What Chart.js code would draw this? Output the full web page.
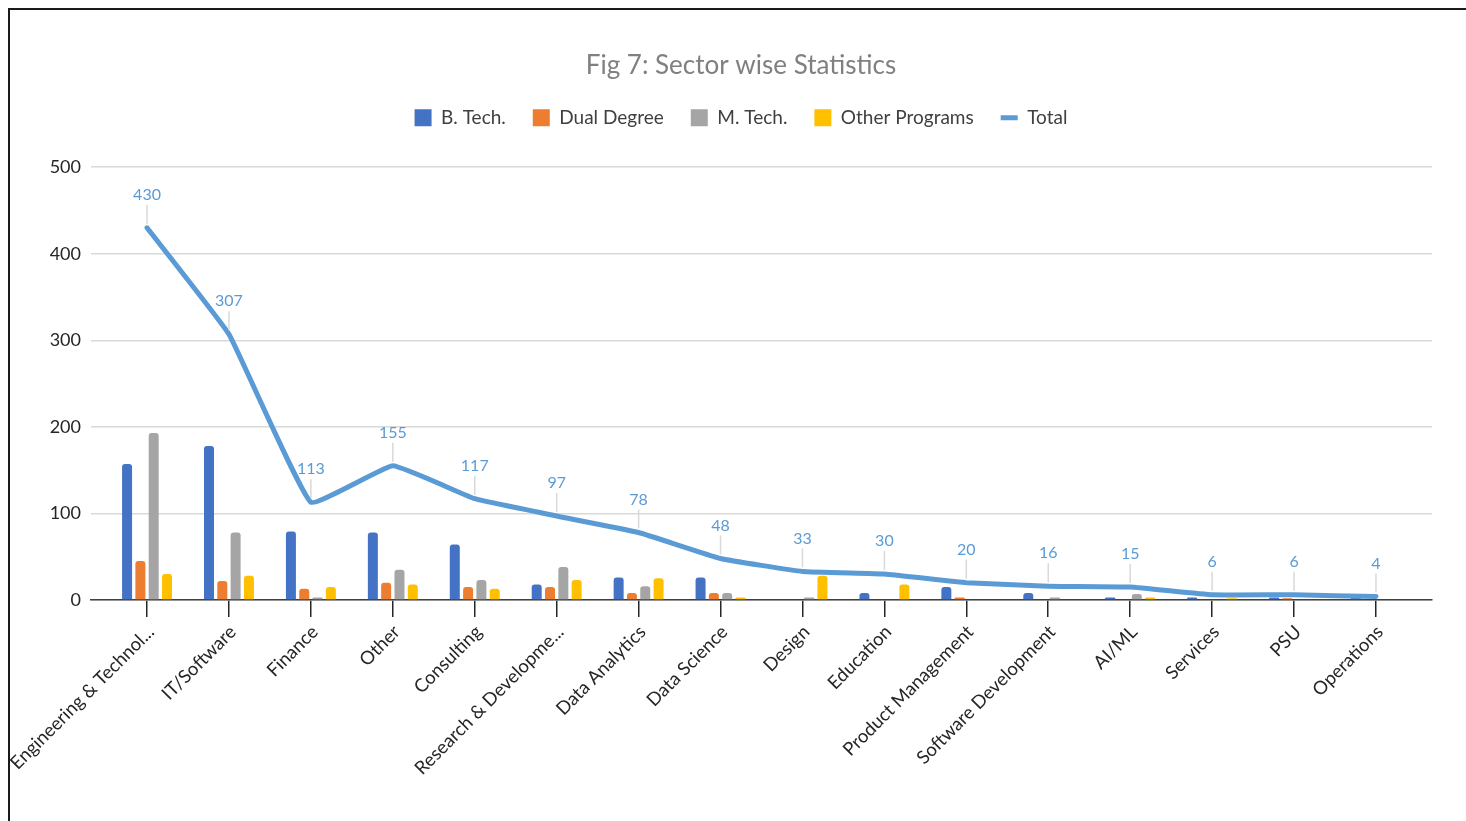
<!DOCTYPE html>
<html>
<head>
<meta charset="utf-8">
<script src="https://cdn.jsdelivr.net/npm/chart.js@4"></script>
<style>
  html, body { margin: 0; padding: 0; background: #fff; overflow: hidden; }
  #wrap { position: relative; width: 1466px; height: 821px; }
  #frame { position: absolute; left: 8px; top: 8px; width: 2000px; height: 2000px;
           border-top: 2px solid #1a1a1a; border-left: 2px solid #1a1a1a; pointer-events: none; }
</style>
</head>
<body>
<div id="wrap">
  <canvas id="chartSector" width="1466" height="821"></canvas>
  <div id="frame"></div>
</div>
<script>
const sectors = ["Engineering & Technol...", "IT/Software", "Finance", "Other", "Consulting",
  "Research & Developme...", "Data Analytics", "Data Science", "Design", "Education",
  "Product Management", "Software Development", "AI/ML", "Services", "PSU", "Operations"]
const btech = [157, 178, 79, 78, 64, 18, 26, 26, 0, 8, 15, 8, 3, 3, 3, 3]
const dual = [45, 22, 13, 20, 15, 15, 8, 8, 1, 0, 3, 1, 1, 0, 2, 0]
const mtech = [193, 78, 3, 35, 23, 38, 16, 8, 3, 1, 0, 3, 7, 1, 1, 1]
const otherProg = [30, 28, 15, 18, 13, 23, 25, 3, 28, 18, 1, 1, 3, 2, 0, 0]
const total = [430, 307, 113, 155, 117, 97, 78, 48, 33, 30, 20, 16, 15, 6, 6, 4]
const yTicks = [0, 100, 200, 300, 400, 500]

const FONT = "Lato, 'Open Sans', sans-serif"
const pts = arr => arr.map((v, i) => ({ x: i, y: v }))

function barSet(label, arr, color) {
  return {
    type: "bar", label: label, data: pts(arr),
    backgroundColor: color, borderWidth: 0, borderRadius: 3,
    categoryPercentage: 0.65, barPercentage: 0.75,
    pointStyle: "rect", order: 1
  }
}

// legend spacing below, so the plot starts where the reference does
const legendSpace = {
  id: "legendSpace",
  beforeInit(chart) {
    const fit = chart.legend.fit
    chart.legend.fit = function () {
      fit.bind(chart.legend)()
      this.height = 86
    }
  }
}

// value labels with leader lines above the Total line
const totalLabels = {
  id: "totalLabels",
  afterDatasetsDraw(chart) {
    const meta = chart.getDatasetMeta(4)
    const ctx = chart.ctx
    ctx.save()
    ctx.font = "16px " + FONT
    ctx.textAlign = "center"
    ctx.textBaseline = "middle"
    meta.data.forEach((el, i) => {
      ctx.strokeStyle = "#d9d9d9"
      ctx.lineWidth = 1.5
      ctx.beginPath()
      ctx.moveTo(el.x, el.y - 23)
      ctx.lineTo(el.x, el.y - 4)
      ctx.stroke()
      ctx.fillStyle = "#5b9bd5"
      ctx.fillText(String(total[i]), el.x, el.y - 33)
    })
    ctx.restore()
  }
}

const ctx = document.getElementById("chartSector")
const myChart = new Chart(ctx, {
  data: {
    datasets: [
      barSet("B. Tech.", btech, "#4472c4"),
      barSet("Dual Degree", dual, "#ed7d31"),
      barSet("M. Tech.", mtech, "#a5a5a5"),
      barSet("Other Programs", otherProg, "#ffc000"),
      {
        type: "line", label: "Total", data: pts(total),
        borderColor: "#5b9bd5", backgroundColor: "#5b9bd5", borderWidth: 5,
        pointRadius: 0, pointHoverRadius: 0, tension: 0.1,
        borderJoinStyle: "round", borderCapStyle: "round",
        pointStyle: "line", order: 0
      }
    ]
  },
  options: {
    responsive: false,
    animation: false,
    layout: { autoPadding: false, padding: { left: 50, right: 34, top: 0, bottom: 0 } },
    plugins: {
      tooltip: { enabled: false },
      title: {
        display: true, text: "Fig 7: Sector wise Statistics",
        color: "#808080", font: { family: FONT, size: 26, weight: "normal" },
        padding: { top: 50, bottom: 0 }
      },
      legend: {
        position: "top",
        labels: {
          usePointStyle: true, pointStyleWidth: 17, boxHeight: 17,
          padding: 27, color: "#404040",
          font: { family: FONT, size: 19 },
          sort: (a, b) => a.datasetIndex - b.datasetIndex
        }
      }
    },
    scales: {
      x: {
        type: "linear", min: -0.684, max: 15.684, offset: false,
        afterBuildTicks: s => { s.ticks = sectors.map((c, i) => ({ value: i })) },
        afterFit: s => { s.height = 221 },
        ticks: {
          autoSkip: false, maxRotation: 45, minRotation: 45, padding: 4, labelOffset: 4,
          color: "#262626", font: { family: FONT, size: 18.5 },
          callback: v => sectors[v]
        },
        grid: { offset: false, drawOnChartArea: false, drawTicks: true, tickLength: 17, color: "#262626", lineWidth: 1.5 },
        border: { display: true, color: "#404040", width: 1.5 }
      },
      y: {
        min: 0, max: 500,
        afterBuildTicks: s => { s.ticks = yTicks.map(v => ({ value: v })) },
        afterFit: s => { s.width = 41 },
        ticks: { padding: 10, color: "#262626", font: { family: FONT, size: 18 } },
        grid: { color: "#d9d9d9", lineWidth: 1.5, drawTicks: false },
        border: { display: false }
      }
    }
  },
  plugins: [legendSpace, totalLabels]
})
</script>
</body>
</html>
